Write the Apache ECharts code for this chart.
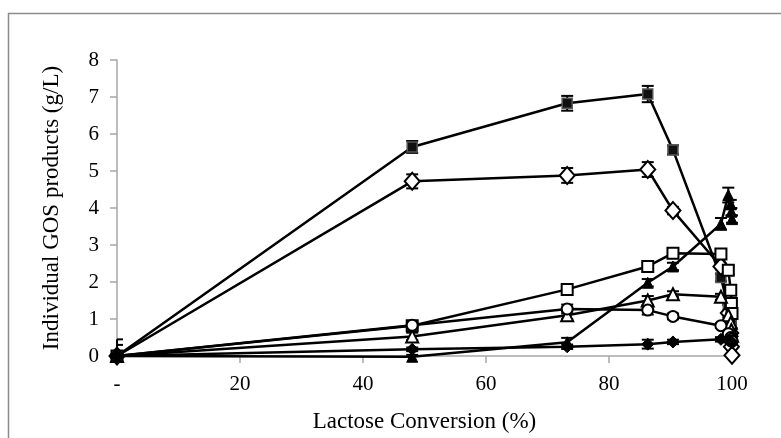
<!DOCTYPE html>
<html>
<head>
<meta charset="utf-8">
<script src="https://cdn.jsdelivr.net/npm/echarts@6/dist/echarts.min.js"></script>
<style>
  html, body { margin: 0; padding: 0; background: #fff; }
  #chart { width: 781px; height: 438px; }
</style>
</head>
<body>
<div id="chart"></div>
<script>
// Lactose conversion (%) at each sampling point
const conversion = [0, 48.0, 73.2, 86.3, 90.4, 98.2, 99.4, 99.8, 99.9, 100];

// Individual GOS product concentrations (g/L) and their standard deviations
const prodA = [0, 5.65, 6.83, 7.08, 5.57, 2.12, 1.30, 0.95, 0.70, 0.50];
const errA  = [0, 0.16, 0.20, 0.22, 0.12, 0.10, 0.08, 0.06, 0.05, 0.05];
const prodB = [0, 4.72, 4.88, 5.04, 3.93, 2.42, 1.16, 0.62, 0.25, 0.02];
const errB  = [0, 0.19, 0.20, 0.20, 0.10, 0.08, 0.06, 0.05, 0.04, 0.03];
const prodC = [0, 0.82, 1.80, 2.42, 2.78, 2.76, 2.32, 1.78, 1.42, 1.15];
const errC  = [0.30, 0.06, 0.06, 0.08, 0.12, 0.12, 0.10, 0.08, 0.06, 0.05];
const prodD = [0, -0.02, 0.37, 1.98, 2.42, 3.57, 4.35, 4.10, 3.90, 3.70];
const errD  = [0.45, 0.05, 0.12, 0.10, 0.10, 0.16, 0.20, 0.12, 0.10, 0.10];
const prodE = [0, 0.53, 1.10, 1.50, 1.67, 1.60, 1.10, 0.90, 0.70, 0.55];
const errE  = [0, 0.10, 0.10, 0.12, 0.08, 0.08, 0.06, 0.05, 0.05, 0.05];
const prodF = [0, 0.83, 1.27, 1.24, 1.07, 0.82, 0.60, 0.50, 0.45, 0.40];
const errF  = [0, 0.06, 0.12, 0.12, 0.08, 0.06, 0.05, 0.05, 0.05, 0.05];
const prodG = [0, 0.18, 0.25, 0.32, 0.38, 0.45, 0.42, 0.40, 0.38, 0.35];
const errG  = [0, 0.05, 0.06, 0.12, 0.06, 0.06, 0.05, 0.05, 0.05, 0.05];

const xTicks = [0, 20, 40, 60, 80, 100];
const yTicks = [0, 1, 2, 3, 4, 5, 6, 7, 8];

const FONT = 'Liberation Serif';

const seriesDefs = [
  { name: 'A', y: prodA, e: errA, symbol: 'rect', size: 10, fill: '#111', border: '#555', bw: 1.5 },
  { name: 'B', y: prodB, e: errB, symbol: 'diamond', size: [15, 17], fill: '#fff', border: '#000', bw: 2 },
  { name: 'C', y: prodC, e: errC, symbol: 'rect', size: 11, fill: '#fff', border: '#000', bw: 2 },
  { name: 'D', y: prodD, e: errD, symbol: 'triangle', size: 11, fill: '#000', border: '#000', bw: 1 },
  { name: 'E', y: prodE, e: errE, symbol: 'triangle', size: 12, fill: '#fff', border: '#000', bw: 2 },
  { name: 'F', y: prodF, e: errF, symbol: 'circle', size: 11, fill: '#fff', border: '#000', bw: 2 },
  { name: 'G', y: prodG, e: errG, symbol: 'diamond', size: 12, fill: '#000', border: '#000', bw: 1 }
];

function errorBarSeries(def) {
  const data = conversion.map((x, i) => [x, def.y[i] - def.e[i], def.y[i] + def.e[i]]);
  return {
    type: 'custom',
    name: def.name + ' err',
    z: 1,
    renderItem: function (params, api) {
      const x = api.value(0);
      const lo = Math.max(api.value(1), 0);
      const hi = api.value(2);
      if (hi - lo <= 0) return;
      const pLo = api.coord([x, lo]);
      const pHi = api.coord([x, hi]);
      const left = params.coordSys.x;
      const half = 6;
      const capL = Math.max(pHi[0] - half, left);
      const style = { stroke: '#000', lineWidth: 2 };
      const children = [
        { type: 'line', shape: { x1: pHi[0], y1: pHi[1], x2: pLo[0], y2: pLo[1] }, style },
        { type: 'line', shape: { x1: capL, y1: pHi[1], x2: pHi[0] + half, y2: pHi[1] }, style }
      ];
      if (api.value(1) >= 0) {
        children.push({ type: 'line', shape: { x1: capL, y1: pLo[1], x2: pLo[0] + half, y2: pLo[1] }, style });
      }
      return { type: 'group', children };
    },
    data: data,
    silent: true
  };
}

function lineSeries(def) {
  return {
    type: 'line',
    name: def.name,
    z: 3,
    data: conversion.map((x, i) => [x, def.y[i]]),
    symbol: def.symbol,
    symbolSize: def.size,
    showAllSymbol: true,
    clip: false,
    lineStyle: { color: '#000', width: 2.5 },
    itemStyle: { color: def.fill, borderColor: def.border, borderWidth: def.bw, opacity: 1 },
    emphasis: { disabled: true },
    animation: false
  };
}

const series = [];
seriesDefs.forEach(d => series.push(errorBarSeries(d)));
seriesDefs.forEach(d => series.push(lineSeries(d)));

const chart = echarts.init(document.getElementById('chart'), null, { renderer: 'canvas' });
chart.setOption({
  animation: false,
  backgroundColor: '#fff',
  graphic: [{
    type: 'rect',
    shape: { x: 8.5, y: 13.5, width: 800, height: 500 },
    style: { fill: 'none', stroke: '#8c8c8c', lineWidth: 1.5 },
    silent: true
  }],
  grid: { left: 117, right: 49, top: 60, bottom: 82 },
  xAxis: {
    type: 'value',
    min: 0, max: 100, interval: 20,
    name: 'Lactose Conversion (%)',
    nameLocation: 'middle',
    nameGap: 54,
    nameTextStyle: { fontFamily: FONT, fontSize: 23, color: '#000' },
    axisLine: { lineStyle: { color: '#a6a6a6', width: 1.5 } },
    axisTick: { show: true, length: 7, customValues: xTicks.slice(1), lineStyle: { color: '#a6a6a6', width: 1.5 } },
    axisLabel: {
      customValues: xTicks,
      formatter: v => (v === 0 ? '-' : String(v)),
      fontFamily: FONT, fontSize: 21, color: '#000', margin: 18
    },
    splitLine: { show: false }
  },
  yAxis: {
    type: 'value',
    min: 0, max: 8, interval: 1,
    name: 'Individual GOS products (g/L)',
    nameLocation: 'middle',
    nameGap: 54,
    nameRotate: 90,
    nameTextStyle: { fontFamily: FONT, fontSize: 23, color: '#000' },
    axisLine: { show: true, lineStyle: { color: '#a6a6a6', width: 1.5 } },
    axisTick: { show: true, length: 7, lineStyle: { color: '#a6a6a6', width: 1.5 } },
    axisLabel: {
      customValues: yTicks,
      fontFamily: FONT, fontSize: 21, color: '#000', margin: 18
    },
    splitLine: { show: false }
  },
  series: series
});
</script>
</body>
</html>
